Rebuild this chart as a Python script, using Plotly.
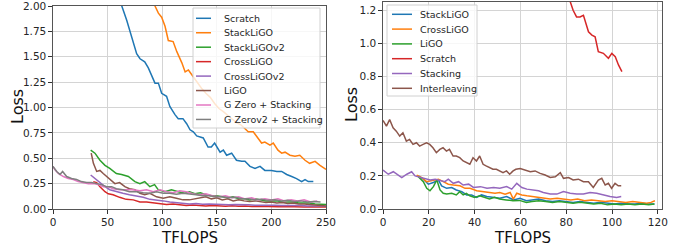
import plotly.graph_objects as go

W, H = 689, 248

# ---------------- Left panel data ----------------
left_names = ["Scratch", "StackLiGO", "StackLiGOv2", "CrossLiGO", "CrossLiGOv2",
              "LiGO", "G Zero + Stacking", "G Zerov2 + Stacking"]
left_colors = ["#1f77b4", "#ff7f0e", "#2ca02c", "#d62728", "#9467bd",
               "#8c564b", "#e377c2", "#7f7f7f"]

scratch_x = [60, 63, 67.5, 72, 76.6, 79.7, 84, 87.3, 90.4, 93.4,
             96.5, 99.5, 104, 107, 111.7, 114.7, 119, 122.4, 125.5, 128.5,
             131.6, 137.6, 142, 145, 148, 153, 156, 159, 163.6, 168,
             172.8, 175.8, 180.4, 185, 189.6, 194, 200, 205, 209.4, 214,
             218.6, 223, 227.7, 230.8, 233.8, 238.4]
scratch_y = [2.12, 2.0, 1.86, 1.70, 1.53, 1.48, 1.45, 1.39, 1.32, 1.24,
             1.24, 1.14, 1.11, 1.01, 0.93, 0.89, 0.89, 0.84, 0.78, 0.76,
             0.72, 0.70, 0.61, 0.61, 0.65, 0.56, 0.58, 0.53, 0.55, 0.48,
             0.47, 0.47, 0.42, 0.40, 0.42, 0.38, 0.38, 0.37, 0.37, 0.34,
             0.32, 0.30, 0.27, 0.29, 0.27, 0.27]

stackligo_x = [91, 93.4, 96.5, 99.5, 102.6, 105.6, 110, 113.4, 118, 121,
               124, 128.5, 132, 136, 140, 144, 148, 152, 156, 160,
               164, 168, 172, 176, 178.8, 183.4, 188, 191, 194, 198.7,
               201.7, 206, 209.4, 212.5, 217, 221.6, 226, 230.8, 235, 240,
               244.5, 249, 250]
stackligo_y = [2.08, 2.0, 1.93, 1.89, 1.80, 1.66, 1.65, 1.55, 1.44, 1.35,
               1.37, 1.30, 1.25, 1.19, 1.14, 1.10, 1.04, 0.99, 0.96, 0.92,
               0.89, 0.85, 0.83, 0.79, 0.76, 0.76, 0.70, 0.65, 0.66, 0.63,
               0.65, 0.58, 0.55, 0.56, 0.53, 0.52, 0.53, 0.48, 0.45, 0.47,
               0.43, 0.40, 0.39]

stackligov2_x = [34.5, 38.4, 43, 47.6, 52, 58, 62.8, 69, 75, 79.6,
                 84, 88.7, 93, 96.3, 102.4, 108.5, 114.6, 120.7, 125, 130,
                 135, 140, 145, 150, 155, 160, 165, 170, 175, 180,
                 185, 190, 195, 200, 205, 210, 215, 220, 225, 230,
                 235, 240, 245, 250]
stackligov2_y = [0.58, 0.55, 0.48, 0.43, 0.40, 0.35, 0.34, 0.32, 0.27, 0.25,
                 0.27, 0.22, 0.24, 0.19, 0.17, 0.19, 0.17, 0.155, 0.17, 0.15,
                 0.16, 0.14, 0.13, 0.13, 0.12, 0.11, 0.12, 0.10, 0.10, 0.09,
                 0.10, 0.09, 0.08, 0.08, 0.08, 0.07, 0.07, 0.07, 0.06, 0.06,
                 0.06, 0.05, 0.05, 0.045]

crossligo_x = [36.9, 40, 43, 47.6, 50.6, 55, 61, 67, 73.5, 79.6,
               85.7, 91.8, 98, 104, 110, 116, 122, 128, 134, 140,
               146, 152, 158, 164, 170, 176, 182, 188, 194, 200,
               206, 212, 218, 224, 230, 236, 242, 248, 250]
crossligo_y = [0.27, 0.26, 0.22, 0.17, 0.15, 0.14, 0.115, 0.095, 0.09, 0.07,
               0.07, 0.06, 0.05, 0.045, 0.05, 0.04, 0.035, 0.04, 0.035, 0.03,
               0.035, 0.03, 0.028, 0.032, 0.027, 0.03, 0.025, 0.028, 0.024, 0.026,
               0.022, 0.025, 0.021, 0.024, 0.02, 0.022, 0.019, 0.021, 0.02]

crossligov2_x = [34.5, 38.4, 43, 47.6, 52, 58, 64, 70, 76.5, 82.6,
                 88.7, 94.8, 101, 107, 113, 119, 125, 131, 137, 143,
                 149, 155, 161, 167, 173, 179, 185, 191, 197, 203,
                 209, 215, 221, 227, 233, 239, 245, 250]
crossligov2_y = [0.335, 0.30, 0.26, 0.22, 0.19, 0.17, 0.155, 0.14, 0.13, 0.115,
                 0.095, 0.09, 0.08, 0.07, 0.065, 0.055, 0.05, 0.055, 0.048, 0.05,
                 0.045, 0.047, 0.042, 0.045, 0.04, 0.042, 0.038, 0.04, 0.036, 0.038,
                 0.034, 0.036, 0.032, 0.034, 0.03, 0.032, 0.03, 0.028]

ligo_x = [35, 37, 40, 43, 46, 49, 52, 56.7, 61, 65.8,
          70, 75, 79.6, 84, 88.7, 94.8, 101, 107, 113, 119,
          125, 130, 135, 140, 145, 150, 155, 160, 165, 170,
          175, 180, 185, 190, 195, 200, 205, 210, 215, 220,
          225, 230, 235, 240, 245, 250]
ligo_y = [0.55, 0.45, 0.37, 0.38, 0.35, 0.32, 0.29, 0.25, 0.26, 0.22,
          0.20, 0.19, 0.155, 0.14, 0.155, 0.12, 0.105, 0.12, 0.105, 0.09,
          0.09, 0.10, 0.11, 0.12, 0.10, 0.11, 0.09, 0.10, 0.08, 0.09,
          0.08, 0.075, 0.08, 0.07, 0.065, 0.07, 0.06, 0.065, 0.055, 0.06,
          0.05, 0.05, 0.045, 0.04, 0.035, 0.03]

gzero_x = [0, 1.8, 4.9, 9.5, 14, 18.6, 23, 27.7, 32.3, 37,
           41.5, 46, 50.6, 55, 61, 67, 73.5, 79.6, 85.7, 91.8,
           98, 104, 110, 116, 122, 128, 134, 140, 146, 152,
           158, 164, 170, 176, 182, 188, 194, 200, 206, 212,
           218, 224, 230, 236, 242]
gzero_y = [0.42, 0.385, 0.35, 0.32, 0.30, 0.29, 0.27, 0.26, 0.25, 0.25,
           0.24, 0.22, 0.22, 0.20, 0.19, 0.19, 0.19, 0.18, 0.19, 0.17,
           0.19, 0.17, 0.16, 0.18, 0.17, 0.15, 0.14, 0.15, 0.13, 0.12,
           0.13, 0.11, 0.12, 0.10, 0.11, 0.09, 0.10, 0.09, 0.10, 0.08,
           0.09, 0.08, 0.09, 0.07, 0.08]

gzerov2_x = [0, 3.4, 6.4, 8.8, 12.5, 17, 21.6, 26, 30.8, 35.4,
             40, 44.5, 49, 53.7, 58, 64, 70, 76.5, 82.6, 88.7,
             94.8, 101, 107, 113, 119, 125, 131, 137, 143, 149,
             155, 161, 167, 173, 179, 185, 191, 197, 203, 209,
             215, 221, 227, 233, 239, 245]
gzerov2_y = [0.42, 0.37, 0.34, 0.37, 0.32, 0.30, 0.29, 0.27, 0.26, 0.26,
             0.25, 0.24, 0.22, 0.22, 0.20, 0.19, 0.17, 0.17, 0.16, 0.155,
             0.17, 0.155, 0.155, 0.145, 0.155, 0.15, 0.14, 0.13, 0.13, 0.12,
             0.12, 0.11, 0.115, 0.10, 0.10, 0.09, 0.095, 0.085, 0.09, 0.08,
             0.085, 0.075, 0.08, 0.07, 0.075, 0.07]

left_x = [scratch_x, stackligo_x, stackligov2_x, crossligo_x, crossligov2_x,
          ligo_x, gzero_x, gzerov2_x]
left_y = [scratch_y, stackligo_y, stackligov2_y, crossligo_y, crossligov2_y,
          ligo_y, gzero_y, gzerov2_y]
left_xticks = [0, 50, 100, 150, 200, 250]
left_yticks = [0.0, 0.25, 0.5, 0.75, 1.0, 1.25, 1.5, 1.75, 2.0]

# ---------------- Right panel data ----------------
right_names = ["StackLiGO", "CrossLiGO", "LiGO", "Scratch", "Stacking", "Interleaving"]
right_colors = ["#1f77b4", "#ff7f0e", "#2ca02c", "#d62728", "#9467bd", "#8c564b"]

r_stackligo_x = [15.4, 17.6, 19.8, 22, 24.2, 25.6, 27.8, 30, 32, 34.4,
                 36.5, 38.7, 40.9, 43, 45.3, 48.2, 51, 54, 57, 59.8,
                 62.6, 65, 68, 71, 74, 77, 80, 83, 86, 89,
                 92, 95, 98, 101, 104, 107, 110, 113, 116, 118.5]
r_stackligo_y = [0.20, 0.18, 0.15, 0.16, 0.175, 0.14, 0.125, 0.13, 0.115, 0.105,
                 0.085, 0.085, 0.07, 0.085, 0.075, 0.07, 0.065, 0.075, 0.055, 0.065,
                 0.05, 0.055, 0.06, 0.05, 0.045, 0.05, 0.045, 0.04, 0.045, 0.04,
                 0.035, 0.04, 0.035, 0.03, 0.035, 0.03, 0.03, 0.035, 0.03, 0.03]

r_crossligo_x = [14.7, 16.9, 19, 22, 24.2, 26.3, 28.5, 30.7, 33.6, 35.8,
                 38, 40.9, 43.8, 46.7, 48.9, 51, 53.3, 55.5, 56.9, 58.4,
                 60.6, 62.8, 65, 68, 70, 73, 76, 79, 82, 85,
                 88, 91, 94, 97, 100, 103, 106, 109, 112, 115,
                 117, 118.7]
r_crossligo_y = [0.205, 0.19, 0.165, 0.175, 0.18, 0.165, 0.15, 0.145, 0.14, 0.125,
                 0.125, 0.11, 0.105, 0.10, 0.095, 0.10, 0.09, 0.10, 0.06, 0.095,
                 0.085, 0.08, 0.075, 0.07, 0.065, 0.06, 0.065, 0.06, 0.055, 0.06,
                 0.05, 0.055, 0.05, 0.045, 0.05, 0.045, 0.04, 0.045, 0.04, 0.035,
                 0.04, 0.05]

r_ligo_x = [15.4, 17.6, 19.1, 20.5, 22, 23.5, 24.9, 26.3, 27.8, 30,
            32, 33.5, 35, 36.4, 37.9, 40, 42.2, 44.3, 46.5, 48.7,
            50.9, 53.8, 56.7, 59.6, 62.6, 65, 68, 71, 74, 77,
            80, 83, 86, 89, 92, 95, 98, 101, 104, 107,
            110, 113, 116, 118.5]
r_ligo_y = [0.195, 0.165, 0.125, 0.11, 0.135, 0.175, 0.115, 0.095, 0.09, 0.095,
            0.085, 0.105, 0.085, 0.095, 0.08, 0.07, 0.08, 0.07, 0.06, 0.07,
            0.06, 0.055, 0.05, 0.052, 0.04, 0.045, 0.05, 0.045, 0.04, 0.045,
            0.04, 0.035, 0.04, 0.035, 0.03, 0.035, 0.025, 0.03, 0.025, 0.03,
            0.025, 0.03, 0.025, 0.03]

r_scratch_x = [81.3, 83, 84.5, 86, 87.5, 89.7, 91.2, 92.6, 94, 96.2,
               98.4, 99.9, 101.4, 102.8, 104.3]
r_scratch_y = [1.27, 1.20, 1.16, 1.16, 1.17, 1.07, 1.05, 1.04, 0.95, 0.94,
               0.91, 0.94, 0.92, 0.87, 0.83]

r_stacking_x = [0, 2.3, 4.5, 6.8, 8.2, 10.4, 12.5, 14, 16.3, 18.5,
                20.6, 22.8, 25, 27, 28.5, 30.7, 33, 35, 37.4, 39.5,
                42.5, 45.4, 48.3, 51, 54, 56.2, 58.4, 60.6, 62.8, 65.7,
                67.9, 70, 73, 75.9, 78.8, 81.7, 84.6, 87.5, 90.4, 93.3,
                96.2, 99.1, 102, 104]
r_stacking_y = [0.235, 0.21, 0.225, 0.205, 0.19, 0.21, 0.225, 0.20, 0.19, 0.185,
                0.175, 0.18, 0.17, 0.165, 0.18, 0.155, 0.165, 0.145, 0.15, 0.13,
                0.135, 0.125, 0.13, 0.125, 0.135, 0.12, 0.155, 0.13, 0.12, 0.115,
                0.11, 0.10, 0.09, 0.09, 0.105, 0.095, 0.09, 0.09, 0.10, 0.095,
                0.085, 0.075, 0.07, 0.075]

r_interleave_x = [0, 1.5, 2.9, 4.4, 5.8, 7.3, 8.7, 10.2, 11.6, 13.1,
                  14.6, 16, 17.5, 19, 20.4, 21.8, 23.3, 24.8, 26.2, 27.7,
                  29, 30.6, 32, 33.5, 35, 36.4, 37.9, 39.3, 40.8, 42.2,
                  43.7, 45, 46.6, 48, 49.5, 51, 52.4, 53.9, 55.3, 56.8,
                  58, 59.9, 62, 64.3, 66.4, 68.6, 70.8, 73, 75.2, 77.4,
                  78.8, 81, 83, 85.3, 87.5, 89.7, 91.8, 94, 95.5, 97,
                  98.4, 99.8, 101.3, 102.7, 104]
r_interleave_y = [0.535, 0.50, 0.54, 0.49, 0.47, 0.44, 0.46, 0.41, 0.42, 0.39,
                  0.40, 0.38, 0.39, 0.40, 0.39, 0.37, 0.34, 0.36, 0.37, 0.35,
                  0.36, 0.32, 0.32, 0.31, 0.29, 0.28, 0.27, 0.31, 0.29, 0.32,
                  0.27, 0.26, 0.25, 0.24, 0.24, 0.23, 0.22, 0.23, 0.21, 0.23,
                  0.24, 0.245, 0.235, 0.225, 0.23, 0.215, 0.205, 0.19, 0.195, 0.22,
                  0.185, 0.19, 0.175, 0.18, 0.165, 0.165, 0.13, 0.175, 0.185, 0.145,
                  0.155, 0.125, 0.155, 0.14, 0.14]

right_x = [r_stackligo_x, r_crossligo_x, r_ligo_x, r_scratch_x, r_stacking_x, r_interleave_x]
right_y = [r_stackligo_y, r_crossligo_y, r_ligo_y, r_scratch_y, r_stacking_y, r_interleave_y]
right_xticks = [0, 20, 40, 60, 80, 100, 120]
right_yticks = [0.0, 0.2, 0.4, 0.6, 0.8, 1.0, 1.2]

# ---------------- Figure ----------------
FONT = "DejaVu Sans"
fig = go.Figure()

for xs, ys, name, col in zip(left_x, left_y, left_names, left_colors):
    fig.add_trace(go.Scatter(x=xs, y=ys, name=name, mode="lines",
                             line=dict(color=col, width=1.5),
                             xaxis="x", yaxis="y", showlegend=False))
for xs, ys, name, col in zip(right_x, right_y, right_names, right_colors):
    fig.add_trace(go.Scatter(x=xs, y=ys, name=name, mode="lines",
                             line=dict(color=col, width=1.5),
                             xaxis="x2", yaxis="y2", showlegend=False))

def px_x(p):
    return p / W

def px_y(p):
    return 1 - p / H

axis_common = dict(showgrid=True, gridcolor="#d4d4d4", gridwidth=1.3,
                   zeroline=False, showline=True, linecolor="#555555", linewidth=1.2,
                   mirror=True, ticks="outside", ticklen=3.5, tickcolor="#333333",
                   tickfont=dict(family=FONT, size=10.5, color="#262626"),
                   ticklabeloverflow="allow", automargin=False)

fig.update_layout(
    width=W, height=H,
    margin=dict(l=0, r=0, t=0, b=0),
    paper_bgcolor="white", plot_bgcolor="white",
    showlegend=False,
    xaxis=dict(domain=[px_x(53), px_x(326)], range=[0, 250], tickvals=left_xticks,
               anchor="y", **axis_common),
    yaxis=dict(domain=[px_y(209), px_y(6)], range=[0, 2.0], tickvals=left_yticks,
               tickformat=".2f", anchor="x", **axis_common),
    xaxis2=dict(domain=[px_x(383), px_x(662)], range=[0, 121.8], tickvals=right_xticks,
                anchor="y2", **axis_common),
    yaxis2=dict(domain=[px_y(209), px_y(2)], range=[0, 1.25], tickvals=right_yticks,
                tickformat=".1f", anchor="x2", **axis_common),
)

annotations = []
shapes = []

# axis titles
title_font = dict(family=FONT, size=15, color="#111111")
annotations += [
    dict(text="TFLOPS", x=px_x(189.5), y=px_y(237.5), xref="paper", yref="paper",
         showarrow=False, xanchor="center", yanchor="middle", font=title_font),
    dict(text="TFLOPS", x=px_x(522.5), y=px_y(237.5), xref="paper", yref="paper",
         showarrow=False, xanchor="center", yanchor="middle", font=title_font),
    dict(text="Loss", x=px_x(18), y=px_y(107), xref="paper", yref="paper",
         showarrow=False, xanchor="center", yanchor="middle", textangle=-90,
         font=dict(family=FONT, size=16, color="#111111")),
    dict(text="Loss", x=px_x(352), y=px_y(105), xref="paper", yref="paper",
         showarrow=False, xanchor="center", yanchor="middle", textangle=-90,
         font=dict(family=FONT, size=16, color="#111111")),
]

def add_legend(names, colors, box, line_x0, line_x1, text_x, row0, drow):
    x0, y0, x1, y1 = box
    shapes.append(dict(type="rect", xref="paper", yref="paper",
                       x0=px_x(x0), x1=px_x(x1), y0=px_y(y1), y1=px_y(y0),
                       fillcolor="rgba(255,255,255,0.8)",
                       line=dict(color="#d0d0d0", width=1), layer="above"))
    for i, (n, c) in enumerate(zip(names, colors)):
        yc = row0 + i * drow
        shapes.append(dict(type="line", xref="paper", yref="paper",
                           x0=px_x(line_x0), x1=px_x(line_x1), y0=px_y(yc), y1=px_y(yc),
                           line=dict(color=c, width=1.5), layer="above"))
        annotations.append(dict(text=n, x=px_x(text_x), y=px_y(yc), xref="paper", yref="paper",
                                showarrow=False, xanchor="left", yanchor="middle",
                                font=dict(family=FONT, size=9.5, color="#262626")))

add_legend(left_names, left_colors, (193, 8, 320, 128), 196, 211, 222, 18.3, 14.45)
add_legend(right_names, right_colors, (387, 5, 477, 96), 392, 412, 418, 14.3, 14.8)

fig.update_layout(annotations=annotations, shapes=shapes)

fig.write_html("out.html",
               config={"displayModeBar": False},
               post_script="document.body.style.margin='0px';document.body.style.padding='0px';")
